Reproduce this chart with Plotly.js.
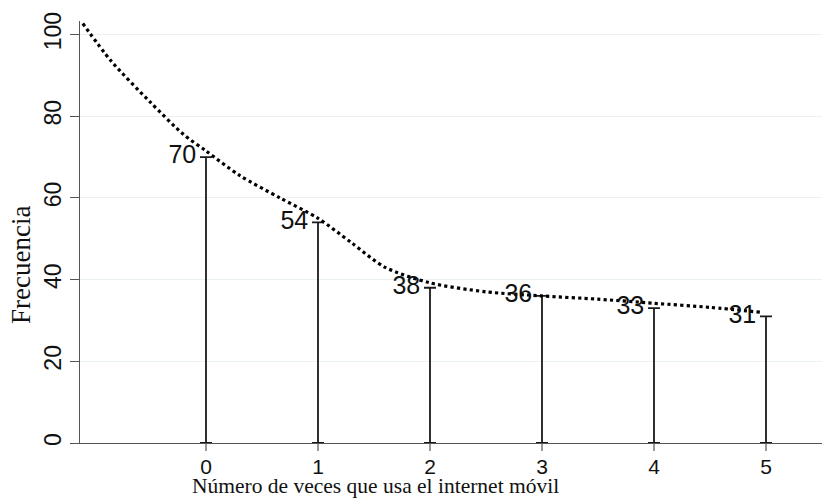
<!DOCTYPE html>
<html>
<head>
<meta charset="utf-8">
<script src="https://cdn.plot.ly/plotly-3.0.1.min.js"></script>
<style>html,body{margin:0;padding:0;background:#fff;}#chart{width:824px;height:500px;}</style>
</head>
<body>
<div id="chart"></div>
<script>
// Spike data: number of times mobile internet is used vs frequency
const categories = [0, 1, 2, 3, 4, 5];
const frequencies = [70, 54, 38, 36, 33, 31];
// Smoothed (dotted) curve
const curveX = [-1.1, -0.85, -0.5, -0.2, 0, 0.3, 0.66, 1.0, 1.3, 1.6, 2.0, 2.5, 3.0, 3.5, 4.0, 4.5, 4.95];
const curveY = [102.7, 93.6, 83.5, 75.5, 71.5, 65.5, 60.0, 55.0, 49.0, 43.0, 39.2, 37.0, 36.0, 35.2, 34.2, 33.2, 32.0];
const yTicks = [0, 20, 40, 60, 80, 100];
const xTicks = [0, 1, 2, 3, 4, 5];
const xTitle = "Número de veces que usa el internet móvil";
const yTitle = "Frecuencia";

const spikes = {
  x: categories,
  y: frequencies,
  type: 'scatter',
  mode: 'markers',
  marker: {size: 1, opacity: 0},
  error_y: {
    type: 'data', symmetric: false,
    array: frequencies.map(() => 0),
    arrayminus: frequencies,
    color: '#1a1a1a', thickness: 1.8, width: 6
  },
  hoverinfo: 'skip', showlegend: false
};

const labels = {
  x: categories,
  y: frequencies,
  type: 'scatter',
  mode: 'markers+text',
  text: frequencies.map(String),
  textposition: 'middle left',
  textfont: {family: 'Liberation Sans, Arial, sans-serif', size: 25, color: '#111'},
  marker: {size: 14, opacity: 0},
  showlegend: false, hoverinfo: 'skip'
};

const curve = {
  x: curveX,
  y: curveY,
  type: 'scatter',
  mode: 'lines',
  line: {color: '#000', width: 3.2, dash: 'dot', shape: 'spline', smoothing: 0.8},
  showlegend: false, hoverinfo: 'skip'
};

const layout = {
  width: 824, height: 500,
  margin: {l: 80, r: 2, t: 21, b: 57},
  paper_bgcolor: '#fff', plot_bgcolor: '#fff',
  xaxis: {
    range: [-1.125, 5.5],
    tickvals: xTicks,
    ticktext: xTicks.map(String),
    showgrid: false, zeroline: false,
    showline: true, linecolor: '#555', linewidth: 1,
    ticks: 'outside', ticklen: 7, tickcolor: '#999', tickwidth: 1.5,
    tickfont: {family: 'Liberation Sans, Arial, sans-serif', size: 21, color: '#111'},
    ticklabelstandoff: -2
  },
  yaxis: {
    range: [0, 103.3],
    tickvals: yTicks,
    ticktext: yTicks.map(String),
    tickangle: -90,
    showgrid: true, gridcolor: '#eaf1f3', gridwidth: 1,
    zeroline: false,
    showline: true, linecolor: '#555', linewidth: 1,
    ticks: 'outside', ticklen: 9, tickcolor: '#555', tickwidth: 1,
    tickfont: {family: 'Liberation Sans, Arial, sans-serif', size: 23, color: '#111'}
  },
  annotations: [
    {text: xTitle, xref: 'paper', yref: 'paper', x: 0.3976, y: -0.1019,
     xanchor: 'center', yanchor: 'middle', showarrow: false,
     font: {family: 'Liberation Serif, Times New Roman, serif', size: 21.5, color: '#111'}},
    {text: yTitle, xref: 'paper', yref: 'paper', x: -0.0795, y: 0.422,
     xanchor: 'center', yanchor: 'middle', showarrow: false, textangle: -90,
     font: {family: 'Liberation Serif, Times New Roman, serif', size: 27, color: '#111'}}
  ]
};

Plotly.newPlot('chart', [spikes, curve, labels], layout, {displayModeBar: false, staticPlot: true});
</script>
</body>
</html>
